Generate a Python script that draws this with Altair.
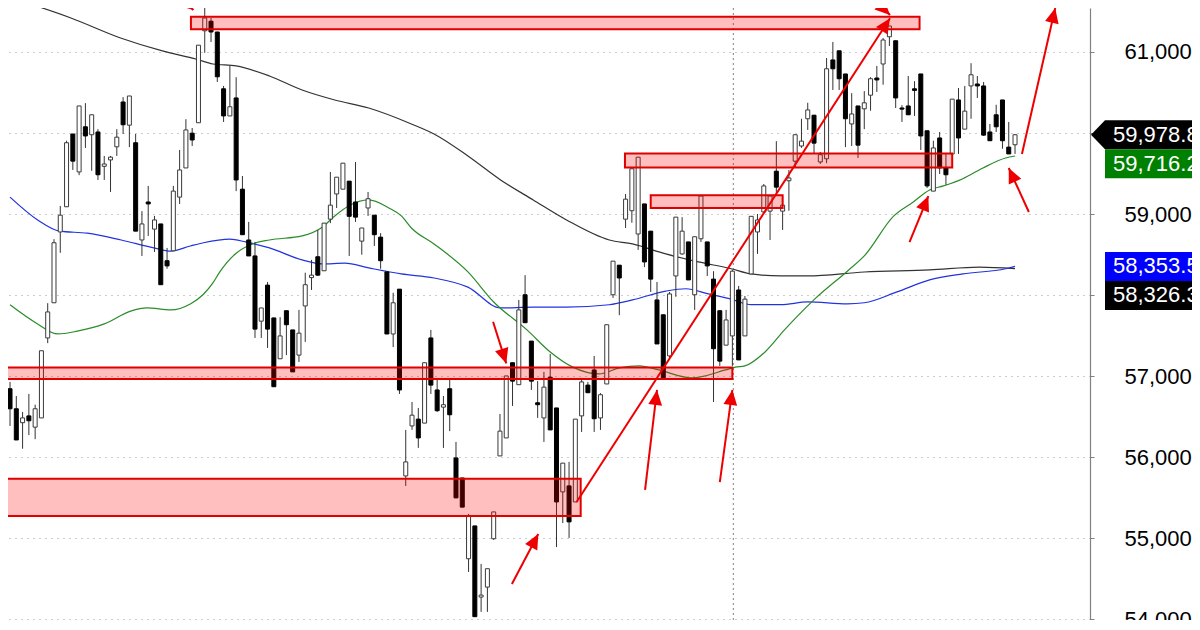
import math
import altair as alt
import pandas as pd

# ---------------- data ----------------
opens = [56844, 56597, 56425, 56509, 56370, 56484, 57471, 57905, 58779, 59090,
         59988, 59520, 60077, 59979, 60013, 59589, 59668, 59830, 60383, 60097,
         59880, 58680, 59149, 58814, 58878, 58424, 58547, 59209, 59569, 59998,
         60127, 61262, 61380, 61247, 60546, 60211, 60433, 59307, 58680, 58483,
         57678, 58123, 57718, 57214, 57807, 57570, 57259, 57866, 58216, 58473,
         58300, 58937, 59248, 59307, 59406, 59149, 58666, 59075, 58986, 58715,
         58286, 57520, 58073, 55768, 56385, 56469, 56420, 57471, 56829, 56617,
         56844, 55990, 55743, 54746, 55151, 54273, 54396, 54993, 56015, 56237,
         57165, 56894, 58004, 57432, 56671, 56484, 56987, 56607, 55571, 55645,
         55447, 56509, 56889, 57076, 56484, 56903, 58004, 58369, 58937, 59041,
         58754, 59125, 58789, 57940, 57757, 57249, 58236, 58508, 58656, 58004,
         58695, 58656, 58197, 57807, 57382, 57496, 58063, 57496, 58261, 58779,
         59026, 59036, 59529, 59036, 59411, 59653, 59840, 60176, 60220, 59643,
         59682, 60902, 61015, 60729, 60112, 60334, 60299, 60467, 60679, 60852,
         61188, 61139, 60309, 60334, 60546, 60729, 60028, 59283, 59939, 59569,
         59742, 60408, 60048, 60581, 60605, 60581, 60013, 60225, 60408, 59826,
         59855]
highs = [56928, 56755, 56558, 56780, 56647, 57313, 57900, 58690, 59100, 59905,
         59988, 60334, 60369, 60225, 60048, 59717, 59717, 60048, 60443, 60457,
         59988, 59036, 59347, 58977, 58878, 58582, 59347, 59791, 60171, 60062,
         61084, 61593, 61420, 61247, 60581, 60828, 60689, 59470, 58903, 58656,
         57841, 58162, 57718, 57728, 57807, 57570, 57817, 58276, 58434, 58804,
         58888, 59520, 59455, 59628, 59406, 59643, 58828, 59273, 58986, 58764,
         58286, 58029, 58073, 56336, 56681, 56607, 57165, 57570, 56963, 56755,
         56953, 56188, 55743, 55299, 55151, 54682, 54623, 55324, 56533, 57002,
         57165, 57940, 58246, 57432, 56938, 57052, 57274, 56607, 55926, 55941,
         56469, 56978, 56928, 57249, 56790, 57634, 58419, 58369, 59248, 59559,
         59702, 59125, 58789, 58162, 57757, 58039, 58962, 58962, 58656, 58720,
         59223, 58656, 58295, 57807, 57817, 58310, 58113, 57989, 58972, 59001,
         59371, 59223, 59900, 59223, 59544, 59979, 60176, 60373, 60220, 59766,
         60926, 61124, 61015, 60729, 60492, 60334, 60517, 60689, 60828, 61173,
         61321, 61139, 60344, 60704, 60640, 60729, 60028, 59905, 60013, 59742,
         60418, 60556, 60581, 60862, 60704, 60630, 60112, 60349, 60408, 60137,
         59988]
lows = [56385, 56212, 56104, 56272, 56222, 56484, 57407, 57905, 58522, 59090,
        59544, 59480, 59816, 59534, 59421, 59421, 59273, 59717, 59988, 59826,
        58789, 58483, 58730, 58532, 58128, 58325, 58547, 59125, 59569, 59840,
        60127, 60990, 61124, 60630, 60137, 60211, 59283, 58745, 58483, 57471,
        57471, 57348, 56869, 57214, 57259, 57052, 57175, 57422, 58063, 58236,
        58300, 58888, 59075, 59307, 58483, 58903, 58498, 58977, 58606, 58325,
        57520, 57358, 56780, 55645, 56336, 56114, 56420, 56780, 56558, 56114,
        56321, 55497, 55383, 54583, 54031, 54090, 54090, 54978, 56015, 56237,
        56632, 56894, 57659, 56829, 56484, 56188, 56336, 54890, 55186, 55003,
        55447, 56311, 56790, 56311, 56336, 56903, 57965, 57752, 58828, 58893,
        58557, 58345, 58039, 57397, 56978, 57224, 57979, 58498, 58187, 57817,
        58656, 58236, 56681, 57126, 57382, 57126, 57200, 57496, 58261, 58508,
        59026, 58680, 59223, 58804, 59041, 59569, 59816, 60038, 59742, 59618,
        59628, 60531, 60531, 59826, 59840, 59692, 60048, 60275, 60507, 60596,
        61074, 60309, 60137, 60225, 60211, 59791, 59322, 59283, 59495, 59362,
        59742, 59742, 60048, 60176, 60433, 59964, 59905, 60013, 59806, 59742,
        59742]
closes = [56597, 56212, 56484, 56449, 56597, 57313, 57792, 58646, 58986, 59880,
          59653, 60334, 59964, 60225, 59485, 59618, 59702, 59949, 60102, 60457,
          58789, 58878, 59125, 58927, 58128, 58360, 59283, 59544, 60038, 59914,
          61084, 61420, 61247, 60694, 60211, 60324, 59421, 58745, 58483, 57580,
          57841, 57580, 56869, 57496, 57634, 57052, 57530, 58128, 58246, 58246,
          58888, 59110, 59455, 59628, 58972, 58962, 58828, 59189, 58745, 58424,
          57520, 57905, 56829, 55941, 56518, 56237, 57165, 56889, 56573, 56647,
          56523, 55497, 55383, 55275, 54031, 54297, 54623, 55324, 56321, 57002,
          56938, 57817, 57659, 56938, 56647, 56864, 56336, 55447, 55926, 55201,
          56469, 56928, 56795, 56474, 56770, 57634, 58419, 58211, 59184, 59559,
          59702, 58409, 58197, 57397, 56978, 58014, 58962, 58789, 58187, 58720,
          59223, 58360, 57338, 57185, 57693, 58295, 57200, 57950, 58972, 58927,
          59347, 59223, 59332, 59110, 59445, 59979, 59900, 60285, 59875, 59732,
          60793, 60793, 60670, 60176, 60235, 59850, 60373, 60670, 60655, 61148,
          61321, 60433, 60295, 60225, 60526, 59964, 59347, 59816, 59569, 59485,
          60418, 59939, 60270, 60719, 60581, 59974, 59905, 60077, 59905, 59742,
          59978.8]

# moving averages (bar index, price)
ma_black_idx = [1.3, 9.7, 17.6, 24.4, 29.7, 32.3, 36.0, 41.3, 46.5, 51.7, 57.1, 63.9,
                67.5, 72.9, 78.1, 83.3, 88.6, 95.4, 99.1, 104.4, 109.6, 114.8, 118.0,
                122.7, 127.0, 136.0, 146.4, 154.3, 160.0]
ma_black_val = [61642, 61420, 61173, 61010, 60911, 60852, 60828, 60704, 60531, 60408,
                60309, 60112, 59988, 59717, 59421, 59174, 58927, 58680, 58631, 58508,
                58409, 58325, 58261, 58236, 58236, 58285, 58310, 58345, 58326.3]
ma_blue_idx = [0, 4.4, 7.9, 12.3, 17.7, 22.9, 25.6, 28.7, 30.8, 35.0, 37.5, 41.3, 46.5,
               49.7, 53.3, 57.1, 62.3, 67.5, 72.9, 78.1, 83.3, 88.6, 95.4, 99.1, 104.4,
               107.6, 111.2, 114.8, 118.0, 122.7, 127.0, 133.3, 136.0, 141.2, 146.4,
               151.7, 158.5, 160.0]
ma_blue_val = [59209, 58927, 58789, 58764, 58680, 58582, 58542, 58606, 58646, 58690,
               58656, 58582, 58434, 58384, 58394, 58335, 58261, 58211, 58098, 57841,
               57851, 57851, 57881, 57940, 58049, 58078, 58014, 57950, 57881, 57881,
               57915, 57891, 57905, 58039, 58187, 58261, 58325, 58353.5]
ma_green_idx = [0, 4.4, 7.6, 10.7, 15.0, 19.2, 21.8, 25.6, 28.7, 30.8, 32.3, 33.4, 36.0,
                38.6, 41.3, 46.5, 49.7, 51.7, 53.9, 57.1, 60.3, 62.3, 63.9, 67.5, 72.9,
                77.0, 82.3, 86.0, 89.6, 93.8, 97.0, 100.2, 103.3, 108.5, 113.9, 115.5,
                117.0, 120.2, 123.3, 125.4, 128.1, 133.3, 136.0, 140.7, 143.8, 146.4,
                148.6, 151.7, 154.9, 158.5, 160.0]
ma_green_val = [57881, 57644, 57520, 57555, 57644, 57802, 57841, 57817, 57891, 58010,
                58150, 58286, 58517, 58631, 58680, 58730, 58838, 58977, 59100, 59174,
                59075, 58977, 58828, 58631, 58286, 57915, 57570, 57298, 57111, 57027,
                57101, 57126, 57076, 56978, 57076, 57111, 57126, 57298, 57570, 57743,
                57950, 58295, 58483, 58977, 59149, 59297, 59347, 59436, 59569, 59692,
                59716.2]

# red zones (bar index from/to, price from/to)
zone_x0 = [28.8, 97.9, 102.0, -3.0, -3.0]
zone_x1 = [144.8, 150.0, 123.0, 115.0, 90.85]
zone_y0 = [61281, 59574, 59074, 56964, 55274]
zone_y1 = [61436, 59746, 59233, 57106, 55732]

# red arrows (tail -> tip)
arrow_x0 = [26.3, 137.7, 90.2, 79.9, 76.9, 101.1, 113.0, 143.2, 162.2, 161.1]
arrow_y0 = [61715, 61641, 55446, 54435, 57670, 55595, 55693, 58655, 59025, 59741]
arrow_x1 = [29.2, 140.1, 140.1, 84.1, 79.0, 103.0, 115.0, 146.2, 159.0, 166.4]
arrow_y1 = [61518, 61457, 61416, 55052, 57157, 56829, 56829, 59222, 59568, 61543]

# vertical separator
vgrid_idx = [115.15]

# last-value tags
tag_vals = [59978.8, 59716.2, 58353.5, 58326.3]
tag_text = ["59,978.8", "59,716.2", "58,353.5", "58,326.3"]
tag_bg = ["#000000", "#008000", "#0000ff", "#000000"]

tick_vals = [54000, 55000, 56000, 57000, 58000, 59000, 60000, 61000]
hidden_ticks = [58000, 60000]   # covered by the value tags in the reference

# ---------------- layout ----------------
W, H = 1082, 612
X_MIN, X_MAX = 0.473, 171.14
Y_MIN, Y_MAX = 53990.0, 61543.0
PPX = W / (X_MAX - X_MIN)
PPY = H / (Y_MAX - Y_MIN)
TAG_H = 29

label_expr = " || ".join("datum.value == %d" % v for v in hidden_ticks)
label_expr = "(%s) ? '' : datum.label" % label_expr

xs = alt.Scale(domain=[X_MIN, X_MAX], nice=False, zero=False)
ys = alt.Scale(domain=[Y_MIN, Y_MAX], nice=False, zero=False)
yaxis = alt.Axis(orient="right", values=tick_vals, format=",d", title=None,
                 labelExpr=label_expr,
                 labelFontSize=22, labelFont="Liberation Sans", labelColor="#000000",
                 labelPadding=30, tickSize=4, tickColor="#808080", domainColor="#808080",
                 domainWidth=1.2, grid=True, gridColor="#9a9a9a", gridDash=[1, 5],
                 gridWidth=1, labelOverlap=False, labelBound=False, labelFlush=False)


def X(f):
    return alt.X(f, type="quantitative", scale=xs, axis=None, title=None)


def Y(f):
    return alt.Y(f, type="quantitative", scale=ys, axis=yaxis, title=None)


candles = pd.DataFrame({"i": list(range(len(opens))), "open": opens, "high": highs,
                        "low": lows, "close": closes})

wicks = alt.Chart(candles).mark_rule(color="#333333", strokeWidth=1, clip=True).encode(
    x=X("i"), y=Y("low"), y2=alt.Y2("high"))
bodies = alt.Chart(candles).mark_bar(size=4, strokeWidth=1, clip=True).encode(
    x=X("i"), y=Y("open"), y2=alt.Y2("close"),
    fill=alt.condition("datum.close >= datum.open", alt.value("#ffffff"), alt.value("#000000")),
    stroke=alt.condition("datum.close >= datum.open", alt.value("#3a3a3a"), alt.value("#000000")))


def ma_line(idx, val, color):
    df = pd.DataFrame({"i": idx, "v": val})
    return alt.Chart(df).mark_line(color=color, strokeWidth=1.2, clip=True,
                                   interpolate="monotone").encode(x=X("i"), y=Y("v"))


ma_black = ma_line(ma_black_idx, ma_black_val, "#333333")
ma_blue = ma_line(ma_blue_idx, ma_blue_val, "#2233dd")
ma_green = ma_line(ma_green_idx, ma_green_val, "#2a8c2a")

vgrid = alt.Chart(pd.DataFrame({"v": vgrid_idx})).mark_rule(
    color="#808080", strokeDash=[2, 3], strokeWidth=1).encode(x=X("v"))

zones = pd.DataFrame({"x0": zone_x0, "x1": zone_x1, "y0": zone_y0, "y1": zone_y1})
zone_layer = alt.Chart(zones).mark_rect(fill="#ff0000", fillOpacity=0.25, stroke="#e00000",
                                        strokeWidth=2, clip=True).encode(
    x=X("x0"), x2=alt.X2("x1"), y=Y("y0"), y2=alt.Y2("y1"))

angles = []
for a, b, c, d in zip(arrow_x0, arrow_y0, arrow_x1, arrow_y1):
    dx = (c - a) * PPX
    dy = -(d - b) * PPY
    angles.append(math.degrees(math.atan2(dx, -dy)) % 360)
arrows = pd.DataFrame({"x0": arrow_x0, "y0": arrow_y0, "x1": arrow_x1, "y1": arrow_y1,
                       "ang": angles})
shafts = alt.Chart(arrows).mark_rule(color="#ee0000", strokeWidth=2, clip=True).encode(
    x=X("x0"), x2=alt.X2("x1"), y=Y("y0"), y2=alt.Y2("y1"))
heads = alt.Chart(arrows).mark_point(shape="M0,0 L-0.46,1 L0.46,1 Z", filled=True,
                                     size=900, color="#ee0000", opacity=1,
                                     strokeWidth=0, clip=True).encode(
    x=X("x1"), y=Y("y1"), angle=alt.Angle("ang:Q", scale=None))

# tags stacked so they do not overlap
disp = []
for k, v in enumerate(tag_vals):
    if k % 2 == 1:
        prev = disp[-1]
        gap_px = (prev - v) * PPY
        shift = max(0.0, TAG_H - gap_px)
        disp.append(v - shift / PPY)
    else:
        disp.append(v)
tags = pd.DataFrame({"v": disp, "t": tag_text, "bg": tag_bg})
tag_boxes = alt.Chart(tags).mark_rect(yOffset=-TAG_H / 2, y2Offset=TAG_H / 2).encode(
    x=alt.value(W + 15), x2=alt.value(W + 110), y=Y("v"), y2=alt.Y2("v"),
    fill=alt.Fill("bg:N", scale=None))
tag_ptr = alt.Chart(tags.iloc[[0]]).mark_point(
    shape="M0,0 L1,-1.04 L1,1.04 Z", filled=True, size=784, color="#000000",
    opacity=1, strokeWidth=0).encode(x=alt.value(W + 1), y=Y("v"))
tag_txt = alt.Chart(tags).mark_text(align="left", baseline="middle", fontSize=22,
                                    font="Liberation Sans", color="#ffffff").encode(
    x=alt.value(W + 23), y=Y("v"), text="t:N")

chart = alt.layer(
    vgrid, ma_black, ma_blue, ma_green, wicks, bodies, zone_layer, shafts, heads,
    tag_boxes, tag_ptr, tag_txt
).properties(
    width=W, height=H,
    autosize=alt.AutoSizeParams(type="none"),
    padding={"left": 0, "top": 0, "right": 102, "bottom": 0},
    background="#ffffff",
).configure_view(stroke=None)

chart.save("out.html", embed_options={"renderer": "svg", "actions": False})
